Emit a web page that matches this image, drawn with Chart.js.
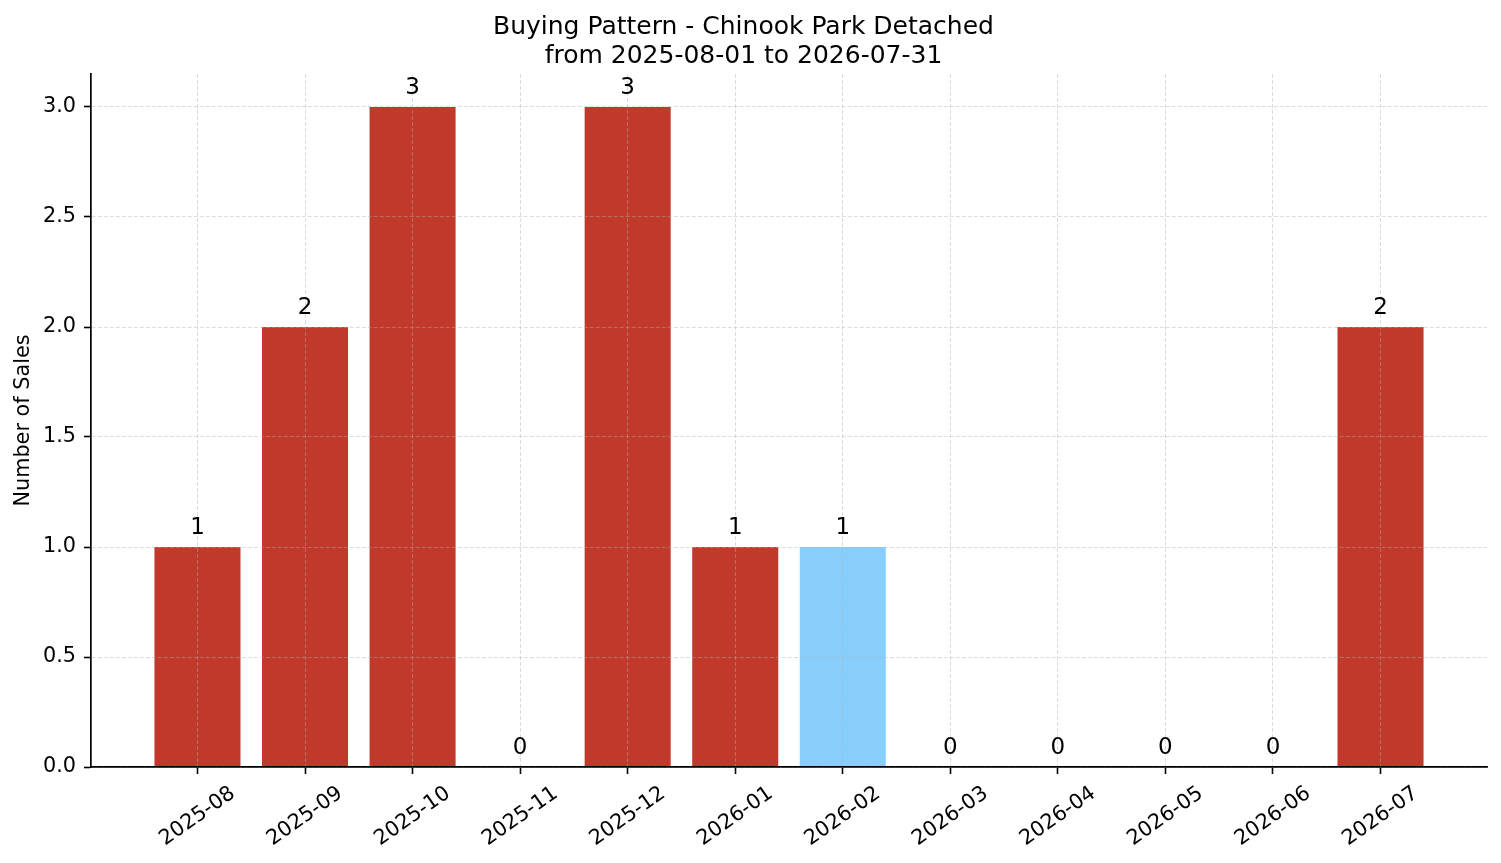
<!DOCTYPE html>
<html><head><meta charset="utf-8">
<script src="https://cdn.jsdelivr.net/npm/chart.js@4.4.1/dist/chart.umd.min.js"></script>
<style>html,body{margin:0;padding:0;background:#fff}#wrap{width:1501px;height:863px;position:relative}</style>
</head><body><div id="wrap"><canvas id="c"></canvas></div>
<script>
const months = ['2025-08','2025-09','2025-10','2025-11','2025-12','2026-01','2026-02','2026-03','2026-04','2026-05','2026-06','2026-07'];
const sales = [1, 2, 3, 0, 3, 1, 1, 0, 0, 0, 0, 2];
const barColors = ['#c0392b','#c0392b','#c0392b','#c0392b','#c0392b','#c0392b','#87cefa','#c0392b','#c0392b','#c0392b','#c0392b','#c0392b'];
const yTickValues = [0, 0.5, 1, 1.5, 2, 2.5, 3];
const titleLines = ['Buying Pattern - Chinook Park Detached', 'from 2025-08-01 to 2026-07-31'];
const yAxisTitle = 'Number of Sales';

const FONT = 'DejaVu Sans';
const GRID = 'rgba(176,176,176,0.55)';

const overlayText = {
  id: 'overlayText',
  afterDraw(chart) {
    const ctx = chart.ctx;
    const xs = chart.scales.x;
    const area = chart.chartArea;
    const meta = chart.getDatasetMeta(0);
    ctx.save();
    ctx.fillStyle = '#000';
    ctx.font = '23px "' + FONT + '"';
    ctx.textAlign = 'center';
    ctx.textBaseline = 'alphabetic';
    meta.data.forEach((bar, i) => {
      ctx.fillText(String(sales[i]), bar.x, bar.y - 13.3);
    });
    ctx.restore();
    ctx.save();
    ctx.fillStyle = '#000';
    ctx.font = '20.8px "' + FONT + '"';
    ctx.textAlign = 'center';
    ctx.textBaseline = 'middle';
    const ang = 35 * Math.PI / 180;
    const h = 20.8 * 1.164;
    months.forEach((m, i) => {
      const x = xs.getPixelForValue(i);
      const w = ctx.measureText(m).width;
      const H = w * Math.sin(ang) + h * Math.cos(ang);
      const cy = area.bottom + 14.6 + H / 2;
      ctx.save();
      ctx.translate(x, cy);
      ctx.rotate(-ang);
      ctx.fillText(m, 0, 0);
      ctx.restore();
    });
    ctx.restore();
  }
};

new Chart(document.getElementById('c'), {
  type: 'bar',
  data: {
    datasets: [{
      data: sales.map((v, i) => ({x: i, y: v})),
      backgroundColor: barColors,
      borderWidth: 0,
      barPercentage: 0.8,
      categoryPercentage: 1.0
    }]
  },
  options: {
    responsive: true,
    maintainAspectRatio: false,
    devicePixelRatio: 1,
    animation: false,
    layout: {padding: {left: 0, right: 14, top: 0, bottom: 0}},
    plugins: {
      legend: {display: false},
      tooltip: {enabled: false},
      title: {
        display: true,
        text: titleLines,
        color: '#000',
        font: {family: FONT, size: 25, weight: 'normal', lineHeight: 1.15},
        padding: {top: 13, bottom: 3.5}
      }
    },
    scales: {
      x: {
        type: 'linear',
        min: -0.99,
        max: 11.99,
        offset: false,
        afterBuildTicks: s => { s.ticks = months.map((_, i) => ({value: i})); },
        afterFit: s => { s.height = 96; },
        ticks: {display: false, z: 2},
        grid: {z: 1, offset: false, color: GRID, lineWidth: 0.8, tickLength: 7, tickColor: '#000', tickWidth: 1.6, drawTicks: true},
        border: {z: 2, display: true, color: '#000', width: 1.7, dash: [4, 2]}
      },
      y: {
        type: 'linear',
        min: 0,
        max: 3.15,
        afterBuildTicks: s => { s.ticks = yTickValues.map(v => ({value: v})); },
        afterFit: s => { s.width = 91; },
        ticks: {
          z: 2,
          color: '#000',
          font: {family: FONT, size: 20.8},
          padding: 8,
          callback: v => Number(v).toFixed(1)
        },
        title: {
          display: true,
          text: yAxisTitle,
          color: '#000',
          font: {family: FONT, size: 20.8},
          padding: {top: 11, bottom: 0}
        },
        grid: {z: 1, color: GRID, lineWidth: 0.8, tickLength: 7, tickColor: '#000', tickWidth: 1.6, drawTicks: true},
        border: {z: 2, display: true, color: '#000', width: 1.7, dash: [4, 2]}
      }
    }
  },
  plugins: [overlayText]
});
</script>
</body></html>
